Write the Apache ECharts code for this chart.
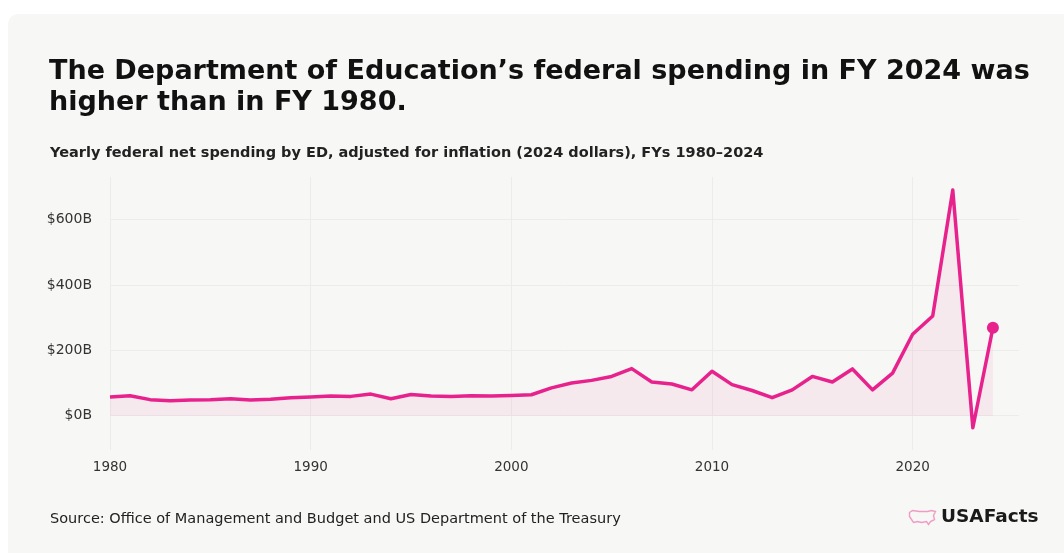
<!DOCTYPE html>
<html>
<head>
<meta charset="utf-8">
<script src="https://cdn.jsdelivr.net/npm/echarts@6/dist/echarts.min.js"></script>
<style>
  html, body { margin: 0; padding: 0; background: #ffffff; }
  #chart { width: 1064px; height: 553px; }
</style>
</head>
<body>
<div id="chart"></div>
<script>
// fiscal years and ED net spending, billions of 2024 dollars
const years = [
  1980, 1981, 1982, 1983, 1984, 1985, 1986, 1987, 1988, 1989,
  1990, 1991, 1992, 1993, 1994, 1995, 1996, 1997, 1998, 1999,
  2000, 2001, 2002, 2003, 2004, 2005, 2006, 2007, 2008, 2009,
  2010, 2011, 2012, 2013, 2014, 2015, 2016, 2017, 2018, 2019,
  2020, 2021, 2022, 2023, 2024
]
const spending = [
  57, 61, 49, 46, 48, 49, 52, 48, 50, 55,
  57, 60, 59, 66, 52, 65, 60, 59, 61, 60,
  62, 64, 85, 100, 108, 120, 144, 103, 97, 79,
  136, 95, 77, 55, 79, 120, 103, 143, 79, 130,
  249, 305, 690, -37, 269
]
const yTicks = [0, 200, 400, 600]
const xTicks = [1980, 1990, 2000, 2010, 2020]

const titleText = 'The Department of Education\u2019s federal spending in FY 2024 was\nhigher than in FY 1980.'
const subtitleText = 'Yearly federal net spending by ED, adjusted for inflation (2024 dollars), FYs 1980\u20132024'
const sourceText = 'Source: Office of Management and Budget and US Department of the Treasury'

const pink = '#e8228c'
const font = 'DejaVu Sans'

const chart = echarts.init(document.getElementById('chart'))

const lineData = years.map(function (y, i) {
  const point = { value: [y, spending[i]] }
  // only the latest year gets a dot
  if (i === years.length - 1) {
    point.symbol = 'circle'
    point.symbolSize = 12
  }
  return point
})

chart.setOption({
  animation: false,
  backgroundColor: 'transparent',
  title: [
    {
      text: titleText,
      left: 44,
      top: 51,
      textStyle: { fontFamily: font, fontSize: 27, fontWeight: 'bold', color: '#111', lineHeight: 31 }
    },
    {
      text: subtitleText,
      left: 45,
      top: 141,
      textStyle: { fontFamily: font, fontSize: 14.5, fontWeight: 'bold', color: '#222' }
    },
    {
      text: sourceText,
      left: 45,
      top: 507,
      textStyle: { fontFamily: font, fontSize: 14.5, fontWeight: 'normal', color: '#222' }
    },
    {
      text: 'USAFacts',
      left: 936,
      top: 503,
      textStyle: { fontFamily: font, fontSize: 18.5, fontWeight: 'bold', color: '#1a1a1a' }
    }
  ],
  graphic: [
    {
      type: 'rect',
      z: -10,
      shape: { x: 8, y: 14, width: 1080, height: 560, r: 10 },
      style: { fill: '#f7f7f5' }
    },
    {
      // little map mark beside the logo
      type: 'polygon',
      left: 907,
      top: 508,
      shape: {
        points: [[0, 2], [3, 0], [10, 1], [18, 1], [22, 0], [26, 1], [24, 5], [25, 9], [21, 11], [19, 14],
          [17, 11], [12, 12], [8, 11], [4, 12], [2, 9], [0, 6]]
      },
      style: { fill: 'none', stroke: '#ef9cc4', lineWidth: 1.4 }
    }
  ],
  grid: {
    left: 110,
    right: 45,
    top: 177,
    bottom: 103,
    containLabel: false
  },
  xAxis: {
    type: 'value',
    min: 1980,
    max: 2025.3,
    axisLine: { show: false },
    axisTick: { show: false, customValues: xTicks },
    axisLabel: {
      customValues: xTicks,
      margin: 10,
      fontFamily: font,
      fontSize: 13.5,
      color: '#333',
      formatter: function (v) { return String(v) }
    },
    splitLine: { show: true, lineStyle: { color: '#ececea', width: 1 } }
  },
  yAxis: {
    type: 'value',
    min: -105,
    max: 730,
    axisLine: { show: false },
    axisTick: { show: false, customValues: yTicks },
    axisLabel: {
      customValues: yTicks,
      margin: 18,
      fontFamily: font,
      fontSize: 14,
      color: '#333',
      formatter: function (v) { return '$' + v + 'B' }
    },
    splitLine: { show: true, lineStyle: { color: '#ececea', width: 1 } }
  },
  series: [
    {
      type: 'line',
      data: lineData,
      symbol: 'none',
      showSymbol: true,
      lineStyle: { color: pink, width: 3.5, join: 'round' },
      itemStyle: { color: pink },
      areaStyle: { color: 'rgba(232, 34, 140, 0.09)' }
    }
  ]
})
</script>
</body>
</html>
